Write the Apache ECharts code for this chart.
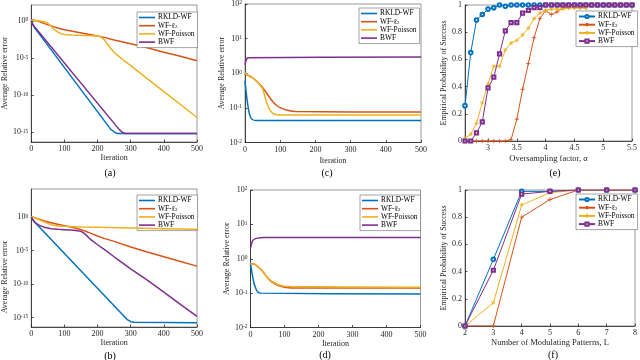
<!DOCTYPE html>
<html>
<head>
<meta charset="utf-8">
<script src="https://cdn.jsdelivr.net/npm/echarts@6/dist/echarts.min.js"></script>
<style>
  html, body { margin: 0; padding: 0; background: #fff; }
  #chart { width: 640px; height: 360px; }
</style>
</head>
<body>
<div id="chart"></div>
<script>
// ---------- values ----------
// (a) average relative error vs iteration
var itRkldA = [0, 5, 10, 20, 240, 250, 258, 500];
var errRkldA = [1, 0.28, 0.126, 0.0316, 2.5e-15, 1.2e-15, 7e-16, 7e-16];
var itL2A = [0, 20, 40, 60, 80, 100, 120, 140, 160, 180, 200, 220, 250, 300, 350, 400, 450, 500];
var errL2A = [1.51, 1.0, 0.447, 0.224, 0.112, 0.066, 0.0447, 0.0302, 0.0209, 0.0145, 0.01, 6.3e-3, 2.8e-3, 8.9e-4, 2.5e-4, 6.3e-5, 1.78e-5, 4.5e-6];
var itPoisA = [0, 20, 40, 50, 60, 70, 80, 90, 100, 120, 140, 160, 180, 200, 210, 220, 230, 240, 250, 260, 280, 300, 350, 400, 450, 500];
var errPoisA = [1.26, 1.12, 0.83, 0.5, 0.2, 0.0708, 0.0316, 0.02, 0.0158, 0.0132, 0.012, 0.0112, 0.0105, 9.3e-3, 7.1e-3, 3.16e-3, 7.9e-4, 2.0e-4, 6.3e-5, 2.5e-5, 4.5e-6, 1e-6, 1.78e-8, 3.16e-10, 5.6e-12, 1e-13];
var itBwfA = [0, 5, 10, 20, 265, 275, 283, 500];
var errBwfA = [1, 0.355, 0.178, 0.05, 2.5e-15, 1e-15, 7e-16, 7e-16];

// (b) average relative error vs iteration
var itRkldB = [0, 5, 10, 290, 300, 310, 500];
var errRkldB = [1.12, 0.4, 0.2, 5e-16, 2.5e-16, 2e-16, 1.8e-16];
var itL2B = [0, 20, 40, 60, 80, 100, 120, 140, 160, 180, 200, 220, 250, 300, 350, 400, 450, 500];
var errL2B = [1.26, 0.63, 0.28, 0.158, 0.089, 0.056, 0.0355, 0.02, 0.01, 3.98e-3, 1.58e-3, 7.1e-4, 2.5e-4, 3.55e-5, 6.3e-6, 1.26e-6, 2.5e-7, 5e-8];
var itPoisB = [0, 20, 40, 60, 80, 100, 150, 200, 300, 400, 500];
var errPoisB = [1.26, 0.56, 0.2, 0.079, 0.05, 0.0447, 0.0355, 0.0316, 0.0251, 0.02, 0.0158];
var itBwfB = [0, 10, 20, 40, 60, 80, 100, 120, 140, 150, 160, 180, 200, 220, 250, 300, 350, 400, 450, 500];
var errBwfB = [1, 0.2, 0.079, 0.0316, 0.02, 0.0158, 0.0141, 0.0126, 0.01, 7.9e-3, 3.98e-3, 4.5e-4, 7.9e-5, 1.58e-5, 1.26e-6, 2e-8, 3.98e-10, 6.3e-12, 1e-13, 1.58e-15];

// (c) average relative error vs iteration
var itRkldC = [0, 5, 10, 15, 20, 30, 500];
var errRkldC = [0.6, 0.2, 0.089, 0.056, 0.047, 0.043, 0.043];
var itL2C = [0, 10, 20, 30, 40, 50, 60, 70, 80, 90, 100, 120, 145, 500];
var errL2C = [0.955, 0.85, 0.76, 0.63, 0.5, 0.39, 0.28, 0.2, 0.148, 0.117, 0.102, 0.085, 0.078, 0.076];
var itPoisC = [0, 10, 20, 30, 40, 50, 60, 70, 80, 90, 100, 500];
var errPoisC = [1.0, 0.87, 0.76, 0.63, 0.5, 0.355, 0.158, 0.089, 0.068, 0.063, 0.062, 0.062];
var itBwfC = [0, 5, 10, 500];
var errBwfC = [1.78, 2.63, 2.82, 2.95];

// (d) average relative error vs iteration
var itRkldD = [0, 5, 10, 15, 20, 30, 500];
var errRkldD = [0.72, 0.355, 0.2, 0.141, 0.112, 0.1, 0.095];
var itL2D = [0, 10, 20, 30, 40, 50, 60, 70, 80, 90, 100, 120, 500];
var errL2D = [0.72, 0.71, 0.6, 0.5, 0.38, 0.28, 0.224, 0.19, 0.17, 0.158, 0.148, 0.141, 0.141];
var itPoisD = [0, 10, 20, 30, 40, 50, 60, 70, 80, 90, 100, 120, 500];
var errPoisD = [0.72, 0.71, 0.6, 0.5, 0.38, 0.28, 0.23, 0.2, 0.178, 0.166, 0.158, 0.155, 0.148];
var itBwfD = [0, 5, 10, 20, 40, 500];
var errBwfD = [2.0, 3.16, 3.63, 3.98, 4.17, 4.17];

// (e) probability of success vs oversampling factor
var alphaE = [2.6, 2.7, 2.8, 2.9, 3.0, 3.1, 3.2, 3.3, 3.4, 3.5, 3.6, 3.7, 3.8, 3.9, 4.0, 4.1, 4.2, 4.3, 4.4, 4.5, 4.6, 4.7, 4.8, 4.9, 5.0, 5.1, 5.2, 5.3, 5.4, 5.5];
var probRkldE = [0.26, 0.65, 0.89, 0.93, 0.97, 0.98, 1, 0.99, 1, 1, 1, 1, 1, 1, 1, 1, 1, 1, 1, 1, 1, 1, 1, 1, 1, 1, 1, 1, 1, 1];
var probL2E = [0, 0, 0, 0, 0, 0, 0, 0, 0.01, 0.16, 0.38, 0.57, 0.76, 0.9, 0.96, 0.93, 0.95, 0.98, 0.98, 0.98, 0.98, 0.98, 1, 1, 1, 1, 1, 1, 1, 1];
var probPoisE = [0.02, 0.05, 0.13, 0.28, 0.42, 0.55, 0.55, 0.67, 0.72, 0.74, 0.78, 0.83, 0.9, 0.94, 0.96, 0.97, 0.97, 0.97, 0.98, 0.98, 0.98, 0.98, 1, 1, 1, 1, 1, 1, 1, 1];
var probBwfE = [0, 0, 0.06, 0.14, 0.39, 0.47, 0.64, 0.81, 0.87, 0.87, 0.94, 0.96, 0.98, 0.98, 1, 1, 1, 1, 1, 1, 1, 1, 1, 1, 1, 1, 1, 1, 1, 1];

// (f) probability of success vs number of modulating patterns
var patternsF = [2, 3, 4, 5, 6, 7, 8];
var probRkldF = [0, 0.49, 0.99, 0.99, 1, 1, 1];
var probL2F = [0, 0, 0.8, 0.93, 1, 1, 1];
var probPoisF = [0, 0.17, 0.89, 0.98, 1, 1, 1];
var probBwfF = [0, 0.41, 0.97, 0.99, 1, 1, 1];

// tick labels
var wideLogTicks = [1e-15, 1e-10, 1e-5, 1];
var narrowLogTicks = [0.01, 0.1, 1, 10, 100];
var alphaTicks = [3, 3.5, 4, 4.5, 5, 5.5];

var METHODS = ['RKLD-WF', 'WF-l2', 'WF-Poisson', 'BWF'];

// ---------- styling ----------
var FONT = 'Liberation Serif';
var INK = '#262626';
var COLORS = ['#0072BD', '#D95319', '#EDB120', '#7E2F8E'];
var MARKERS = [
  { symbol: 'emptyCircle', size: 3.6 },
  { symbol: 'path://M0,5L10,5M5,0L5,10', size: 4.5 },
  { symbol: 'path://M5,0L5,10M0,5L10,5M1.5,1.5L8.5,8.5M1.5,8.5L8.5,1.5', size: 4 },
  { symbol: 'emptyRect', size: 3.2 }
];

function pairs(xs, ys) {
  return xs.map(function (x, i) { return [x, ys[i]]; });
}

function powLabel(v) {
  var e = Math.round(Math.log10(v));
  return '{b|10}{e|' + e + '}';
}

var powRich = {
  b: { fontFamily: FONT, fontSize: 8, color: INK },
  e: { fontFamily: FONT, fontSize: 5.5, color: INK, verticalAlign: 'top' }
};

function xAxisFor(gi, opts) {
  var ax = {
    type: 'value', gridIndex: gi,
    name: opts.name, nameLocation: 'middle', nameGap: opts.nameGap,
    nameTextStyle: { color: INK, fontFamily: FONT, fontSize: opts.nameSize || 8 },
    min: opts.min, max: opts.max,
    axisLine: { show: true, onZero: false, lineStyle: { color: INK, width: 0.8 } },
    axisTick: { show: true, inside: true, length: 2.5, lineStyle: { color: INK, width: 0.8 } },
    axisLabel: { color: INK, fontFamily: FONT, fontSize: 8, margin: 3 },
    splitLine: { show: false }
  };
  if (opts.interval) ax.interval = opts.interval;
  if (opts.ticks) {
    ax.axisLabel.customValues = opts.ticks;
    ax.axisTick.customValues = opts.ticks;
  }
  return ax;
}

function yAxisFor(gi, opts) {
  var ax = {
    type: opts.log ? 'log' : 'value', gridIndex: gi,
    name: opts.name, nameLocation: 'middle', nameGap: opts.nameGap,
    nameTextStyle: { color: INK, fontFamily: FONT, fontSize: 8, padding: opts.namePad || 0 },
    min: opts.min, max: opts.max,
    axisLine: { show: true, onZero: false, lineStyle: { color: INK, width: 0.8 } },
    axisTick: { show: true, inside: true, length: 2.5, lineStyle: { color: INK, width: 0.8 } },
    axisLabel: { color: INK, fontFamily: FONT, fontSize: 8, margin: 3 },
    splitLine: { show: false },
    minorTick: { show: false }
  };
  if (opts.interval) ax.interval = opts.interval;
  if (opts.log) {
    ax.axisLabel.formatter = powLabel;
    ax.axisLabel.rich = powRich;
    ax.axisLabel.customValues = opts.ticks;
    ax.axisTick.customValues = opts.ticks;
  }
  return ax;
}

function errSeries(key, gi, k, xs, ys, smooth) {
  return {
    type: 'line', name: METHODS[k] + '#' + key,
    xAxisIndex: gi, yAxisIndex: gi,
    data: pairs(xs, ys),
    symbol: 'none', smooth: smooth || false,
    lineStyle: { color: COLORS[k], width: 1.5 },
    itemStyle: { color: COLORS[k] },
    z: 2 + k
  };
}

function probSeries(key, gi, k, xs, ys) {
  return {
    type: 'line', name: METHODS[k] + '#' + key,
    xAxisIndex: gi, yAxisIndex: gi,
    data: pairs(xs, ys),
    symbol: MARKERS[k].symbol, symbolSize: MARKERS[k].size, showSymbol: true,
    lineStyle: { color: COLORS[k], width: 1 },
    itemStyle: { color: COLORS[k], borderColor: COLORS[k], borderWidth: 0.8 },
    z: 2 + k
  };
}

function legendText(name) {
  var n = name.split('#')[0];
  return n === 'WF-l2' ? 'WF-\u2113{s|2}' : n;
}

// plainLine: error panels show only a coloured line in the legend
function legendFor(key, left, top, plainLine) {
  var lg = {
    left: left, top: top, orient: 'vertical', selectedMode: false,
    data: METHODS.map(function (m) { return m + '#' + key; }),
    itemWidth: 16, itemHeight: 4, itemGap: 1.2, padding: [2, 3, 2, 2],
    backgroundColor: '#fff', borderColor: '#666', borderWidth: 0.6, borderRadius: 0,
    formatter: legendText,
    textStyle: {
      fontFamily: FONT, fontSize: 7.4, color: '#000', lineHeight: 6.6, padding: [0, 0, 0, -2],
      rich: { s: { fontFamily: FONT, fontSize: 5, color: '#000', verticalAlign: 'bottom', lineHeight: 6.6 } }
    }
  };
  if (plainLine) {
    lg.icon = 'rect';
    lg.itemHeight = 1.6;
  }
  return lg;
}

function caption(text, x, y) {
  return {
    type: 'text', x: x, y: y,
    style: { text: text, fontFamily: FONT, fontSize: 10, fill: '#000', align: 'center', verticalAlign: 'middle' }
  };
}

var option = {
  animation: false,
  backgroundColor: '#fff',
  textStyle: { fontFamily: FONT },
  grid: [
    { left: 26, top: 5, width: 171, height: 137, show: true, borderColor: '#555', borderWidth: 0.6 },     // a
    { left: 245, top: 4, width: 176, height: 138.5, show: true, borderColor: '#555', borderWidth: 0.6 },  // c
    { left: 465, top: 5, width: 172, height: 136, show: true, borderColor: '#555', borderWidth: 0.6 },    // e
    { left: 26, top: 189, width: 171, height: 138, show: true, borderColor: '#555', borderWidth: 0.6 },   // b
    { left: 250.5, top: 190, width: 170, height: 137.5, show: true, borderColor: '#555', borderWidth: 0.6 }, // d
    { left: 465, top: 190, width: 171, height: 136, show: true, borderColor: '#555', borderWidth: 0.6 }   // f
  ],
  xAxis: [
    xAxisFor(0, { name: 'Iteration', nameGap: 12, min: 0, max: 500, interval: 100 }),
    xAxisFor(1, { name: 'Iteration', nameGap: 14.5, min: 0, max: 500, interval: 100 }),
    xAxisFor(2, { name: 'Oversampling factor, \u03b1', nameGap: 13.5, nameSize: 8.5, min: 2.6, max: 5.5, ticks: alphaTicks }),
    xAxisFor(3, { name: 'Iteration', nameGap: 12, min: 0, max: 500, interval: 100 }),
    xAxisFor(4, { name: 'Iteration', nameGap: 12, min: 0, max: 500, interval: 100 }),
    xAxisFor(5, { name: 'Number of Modulating Patterns, L', nameGap: 12.5, nameSize: 8.5, min: 2, max: 8, interval: 1 })
  ],
  yAxis: [
    yAxisFor(0, { name: 'Average Relative error', nameGap: 11, log: true, min: 5e-17, max: 145, ticks: wideLogTicks }),
    yAxisFor(1, { name: 'Average Relative error', nameGap: 14.5, log: true, min: 0.01, max: 100, ticks: narrowLogTicks }),
    yAxisFor(2, { name: 'Empirical Probability of Success', nameGap: 9, min: 0, max: 1, interval: 0.2 }),
    yAxisFor(3, { name: 'Average Relative error', nameGap: 14.5, log: true, min: 4e-17, max: 1.7e4, ticks: wideLogTicks, namePad: [0, 38, 0, 0] }),
    yAxisFor(4, { name: 'Average Relative error', nameGap: 17, log: true, min: 0.01, max: 100, ticks: narrowLogTicks }),
    yAxisFor(5, { name: 'Empirical Probability of Success', nameGap: 10.5, min: 0, max: 1, interval: 0.2 })
  ],
  legend: [
    legendFor('a', 137, 12, true),
    legendFor('c', 359, 8, true),
    legendFor('e', 576, 11, false),
    legendFor('b', 137, 195, true),
    legendFor('d', 360, 195, true),
    legendFor('f', 576, 194, false)
  ],
  series: [
    errSeries('a', 0, 0, itRkldA, errRkldA),
    errSeries('a', 0, 1, itL2A, errL2A),
    errSeries('a', 0, 2, itPoisA, errPoisA),
    errSeries('a', 0, 3, itBwfA, errBwfA),

    errSeries('c', 1, 0, itRkldC, errRkldC, 0.3),
    errSeries('c', 1, 1, itL2C, errL2C, 0.3),
    errSeries('c', 1, 2, itPoisC, errPoisC, 0.3),
    errSeries('c', 1, 3, itBwfC, errBwfC, 0.3),

    probSeries('e', 2, 0, alphaE, probRkldE),
    probSeries('e', 2, 1, alphaE, probL2E),
    probSeries('e', 2, 2, alphaE, probPoisE),
    probSeries('e', 2, 3, alphaE, probBwfE),

    errSeries('b', 3, 0, itRkldB, errRkldB),
    errSeries('b', 3, 1, itL2B, errL2B),
    errSeries('b', 3, 2, itPoisB, errPoisB),
    errSeries('b', 3, 3, itBwfB, errBwfB),

    errSeries('d', 4, 0, itRkldD, errRkldD, 0.3),
    errSeries('d', 4, 1, itL2D, errL2D, 0.3),
    errSeries('d', 4, 2, itPoisD, errPoisD, 0.3),
    errSeries('d', 4, 3, itBwfD, errBwfD, 0.3),

    probSeries('f', 5, 0, patternsF, probRkldF),
    probSeries('f', 5, 1, patternsF, probL2F),
    probSeries('f', 5, 2, patternsF, probPoisF),
    probSeries('f', 5, 3, patternsF, probBwfF)
  ],
  graphic: [
    caption('(a)', 110, 173),
    caption('(c)', 327, 173),
    caption('(e)', 555, 173),
    caption('(b)', 110, 356),
    caption('(d)', 325, 355),
    caption('(f)', 553, 355)
  ]
};

var chart = echarts.init(document.getElementById('chart'), null, { renderer: 'canvas' });
chart.setOption(option);
</script>
</body>
</html>
